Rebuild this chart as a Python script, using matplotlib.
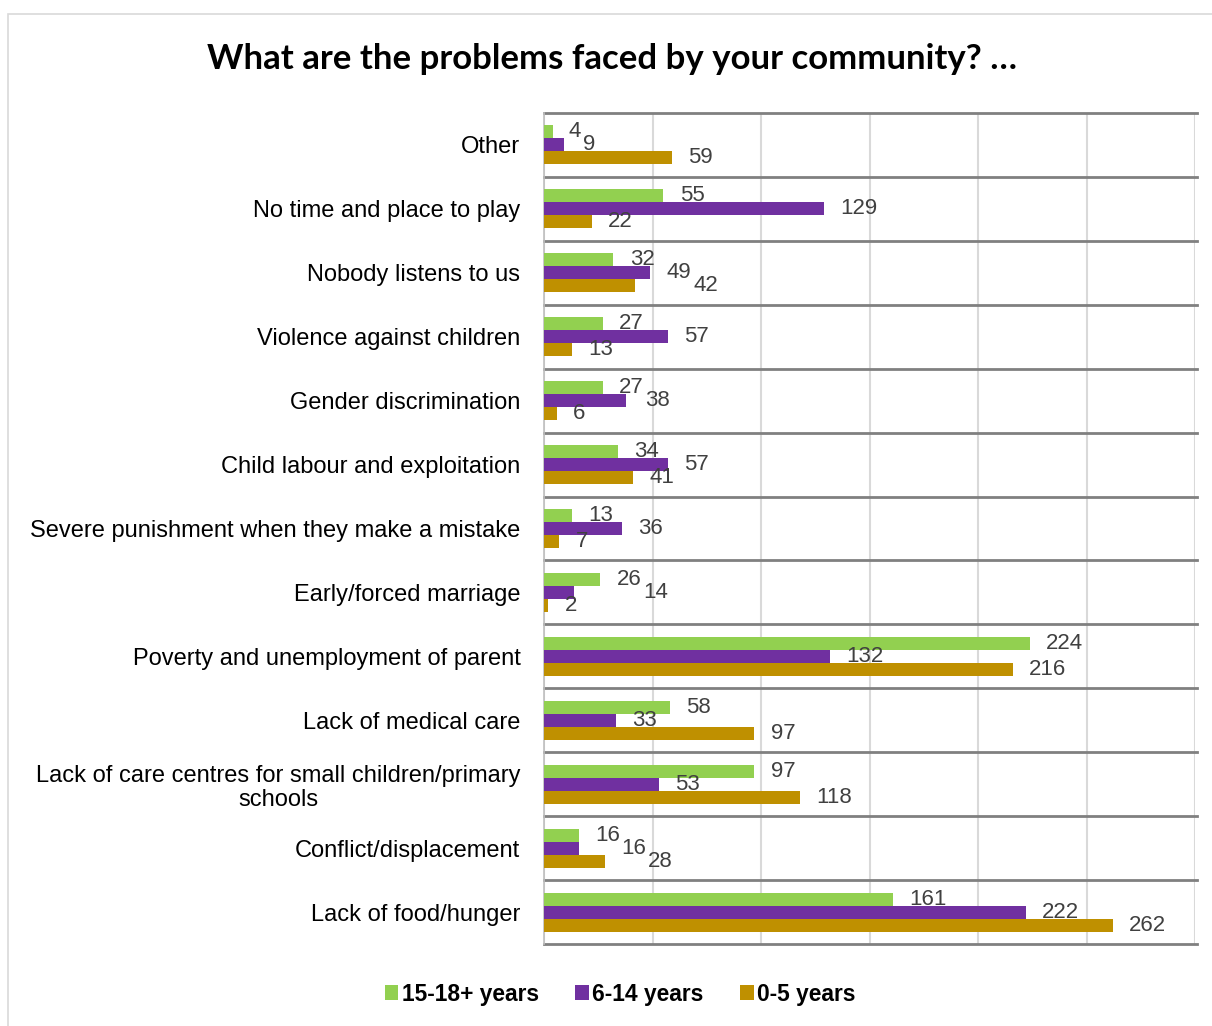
import numpy as np
import matplotlib.pyplot as plt
from matplotlib.patches import Rectangle

categories = [
    "Other",
    "No time and place to play",
    "Nobody listens to us",
    "Violence against children",
    "Gender discrimination",
    "Child labour and exploitation",
    "Severe punishment when they make a mistake",
    "Early/forced marriage",
    "Poverty and unemployment of parent",
    "Lack of medical care",
    "Lack of care centres for small children/primary\nschools",
    "Conflict/displacement",
    "Lack of food/hunger",
]
age_15_18 = [4, 55, 32, 27, 27, 34, 13, 26, 224, 58, 97, 16, 161]
age_6_14 = [9, 129, 49, 57, 38, 57, 36, 14, 132, 33, 53, 16, 222]
age_0_5 = [59, 22, 42, 13, 6, 41, 7, 2, 216, 97, 118, 28, 262]

series_names = ["15-18+ years", "6-14 years", "0-5 years"]
colors = ["#92D050", "#7030A0", "#BF9000"]

W, H = 1212, 1026
fig = plt.figure(figsize=(W / 100, H / 100), dpi=100)

# light chart-area border
fig.patches.append(Rectangle((8 / W, -0.1), 1.2, 1 - 14 / H + 0.1,
                             transform=fig.transFigure, fill=False,
                             edgecolor="#d9d9d9", linewidth=1.2))

ax = fig.add_axes([544 / W, 1 - 944 / H, (1195 - 544) / W, (944 - 113) / H])

y = np.arange(len(categories))
h = 0.203
lab_size = 16
digit_w = 5.6   # approx. width of one digit in x units at lab_size
gap = 7.5
all_series = [age_15_18, age_6_14, age_0_5]
prev_span = [None] * len(categories)
for i, (vals, col) in enumerate(zip(all_series, colors)):
    pos = y + (i - 1) * h
    ax.barh(pos, vals, height=h, color=col, label=series_names[i], zorder=3)
    for k, (p, v) in enumerate(zip(pos, vals)):
        x0 = v + gap
        w = digit_w * len(str(v))
        # push the label right if it runs into the one on the bar above
        if prev_span[k] is not None:
            a, b = prev_span[k]
            if x0 < b + 1 and x0 + w > a - 1:
                x0 = b + 1
        prev_span[k] = (x0, x0 + w)
        ax.text(x0, p, str(v), va="center", ha="left",
                fontsize=lab_size, color="#404040", family="Liberation Sans",
                zorder=4, clip_on=False)

ax.set_xlim(0, 300)
ax.set_ylim(len(categories) - 0.5, -0.5)
ax.set_xticks(np.arange(0, 301, 50))
ax.set_xticklabels([])
ax.tick_params(axis="x", length=0)
ax.grid(axis="x", color="#d9d9d9", linewidth=1.5, zorder=0)

ax.set_yticks(y)
ax.set_yticklabels(categories, fontsize=17, family="Liberation Sans",
                   color="#000000", linespacing=1.15)
ax.tick_params(axis="y", length=0, pad=17)
for lab in ax.get_yticklabels():
    lab.set_horizontalalignment("right")
    lab.set_multialignment("center")

# separators between categories
for b in np.arange(-0.5, len(categories), 1):
    ax.axhline(b, color="#808080", linewidth=2, zorder=2, xmax=1.003,
               clip_on=False)

for s in ["top", "right", "bottom"]:
    ax.spines[s].set_visible(False)
ax.spines["left"].set_color("#bfbfbf")
ax.spines["left"].set_linewidth(1.2)

fig.text(612 / W, 1 - 59 / H, "What are the problems faced by your community? …",
         ha="center", va="center", fontsize=25, fontweight="bold",
         family="Lato", color="#000000")

fig.legend(loc="center", bbox_to_anchor=(620 / W, 1 - 994 / H), ncol=3,
           frameon=False, handlelength=0.6, handleheight=0.6,
           handletextpad=0.15, columnspacing=1.6,
           prop={"family": "Liberation Sans", "weight": "bold", "size": 16.4})

fig.savefig("out.png", dpi=100)
